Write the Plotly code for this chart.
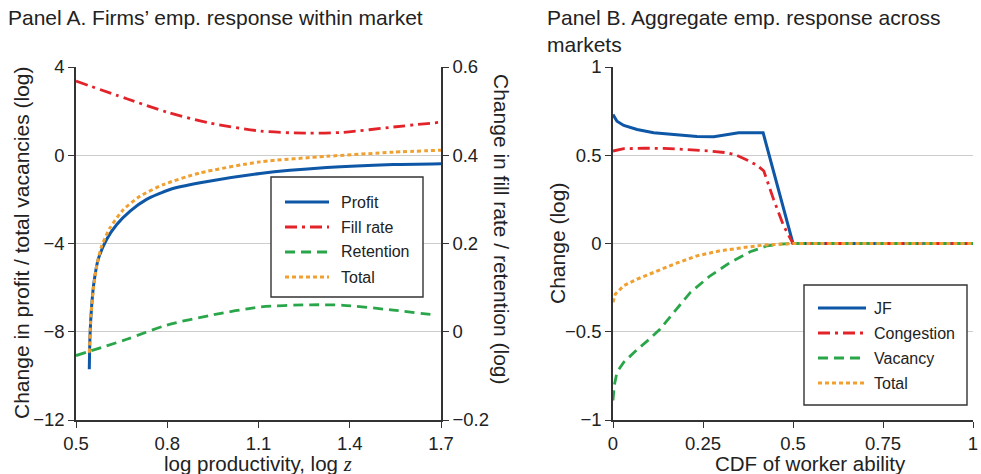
import plotly.graph_objects as go

# ---------------- Panel A: firms' employment response within market ----------------
# log productivity grid (separate grids per series, denser where curves are steep)
profit_x = [0.5437, 0.546, 0.5515, 0.559, 0.573, 0.601, 0.634, 0.678, 0.732, 0.809,
            0.908, 1.105, 1.324, 1.543, 1.70]
profit_y = [-9.7, -8.19, -6.83, -5.77, -4.72, -3.81, -3.14, -2.53, -2.00, -1.55,
            -1.25, -0.83, -0.56, -0.42, -0.38]

total_a_x = [0.5437, 0.549, 0.557, 0.568, 0.584, 0.612, 0.656, 0.710, 0.787, 0.908,
             1.105, 1.324, 1.543, 1.70]
total_a_y = [-8.95, -7.28, -6.08, -5.02, -4.12, -3.29, -2.46, -1.86, -1.33, -0.80,
             -0.30, -0.05, 0.14, 0.23]

fill_x = [0.5, 0.667, 0.798, 0.941, 1.105, 1.258, 1.379, 1.543, 1.70]
fill_y = [0.568, 0.528, 0.498, 0.473, 0.455, 0.450, 0.452, 0.464, 0.475]

retention_x = [0.5, 0.667, 0.798, 0.941, 1.105, 1.27, 1.379, 1.543, 1.68]
retention_y = [-0.054, -0.017, 0.015, 0.037, 0.056, 0.061, 0.060, 0.049, 0.038]

# ---------------- Panel B: aggregate employment response across markets ----------------
jf_x = [0.0, 0.011, 0.030, 0.067, 0.113, 0.178, 0.233, 0.280, 0.317, 0.349, 0.417, 0.5, 1.0]
jf_y = [0.731, 0.693, 0.669, 0.646, 0.627, 0.614, 0.606, 0.605, 0.616, 0.627, 0.627, 0.0, 0.0]

cong_x = [0.0, 0.030, 0.085, 0.141, 0.196, 0.270, 0.317, 0.344, 0.372, 0.400, 0.419,
          0.446, 0.474, 0.5, 1.0]
cong_y = [0.524, 0.537, 0.540, 0.539, 0.533, 0.524, 0.514, 0.499, 0.473, 0.443, 0.411,
          0.25, 0.10, 0.0, 0.0]

vac_x = [0.0, 0.0037, 0.011, 0.030, 0.067, 0.104, 0.131, 0.169, 0.215, 0.270, 0.326,
         0.381, 0.428, 0.465, 0.5, 1.0]
vac_y = [-0.889, -0.804, -0.729, -0.672, -0.601, -0.537, -0.484, -0.390, -0.277, -0.183,
         -0.107, -0.047, -0.013, -0.004, 0.0, 0.0]

total_b_x = [0.0, 0.0065, 0.030, 0.067, 0.113, 0.169, 0.233, 0.298, 0.363, 0.419, 0.5, 1.0]
total_b_y = [-0.333, -0.286, -0.239, -0.202, -0.164, -0.117, -0.070, -0.041, -0.023,
             -0.009, 0.0, 0.0]

# tick values
a_xticks = [0.5, 0.8, 1.1, 1.4, 1.7]
a_yticks = [-12, -8, -4, 0, 4]
a_y2ticks = [-0.2, 0, 0.2, 0.4, 0.6]
b_xticks = [0, 0.25, 0.5, 0.75, 1]
b_yticks = [-1, -0.5, 0, 0.5, 1]

BLUE = "#0d57a6"
RED = "#e2232a"
GREEN = "#2aa64a"
ORANGE = "#f0a030"
INK = "#222222"
AXIS = "#333333"
GRID = "#cdcdcd"
FONT = "Liberation Sans, Arial, sans-serif"

# line styles shared by the curves and their legend keys
STYLE_SOLID = dict(color=BLUE, width=3)
STYLE_DASHDOT = dict(color=RED, width=2.8, dash="12px,5px,3px,5px")
STYLE_DASH = dict(color=GREEN, width=2.8, dash="10px,6px")
STYLE_DOT = dict(color=ORANGE, width=3, dash="4px,3px")

W, H = 981, 474


def px_x(p):
    return p / W


def px_y(p):
    return 1 - p / H


fig = go.Figure()

# Panel A traces
fig.add_trace(go.Scatter(x=profit_x, y=profit_y, name="Profit", mode="lines",
                         line=dict(**STYLE_SOLID, shape="spline", smoothing=0.6),
                         xaxis="x", yaxis="y"))
fig.add_trace(go.Scatter(x=fill_x, y=fill_y, name="Fill rate", mode="lines",
                         line=dict(**STYLE_DASHDOT, shape="spline", smoothing=0.8),
                         xaxis="x", yaxis="y2"))
fig.add_trace(go.Scatter(x=retention_x, y=retention_y, name="Retention", mode="lines",
                         line=dict(**STYLE_DASH, shape="spline", smoothing=0.8),
                         xaxis="x", yaxis="y2"))
fig.add_trace(go.Scatter(x=total_a_x, y=total_a_y, name="Total", mode="lines",
                         line=dict(**STYLE_DOT, shape="spline", smoothing=0.6),
                         xaxis="x", yaxis="y"))

# Panel B traces
fig.add_trace(go.Scatter(x=jf_x, y=jf_y, name="JF", mode="lines",
                         line=STYLE_SOLID, xaxis="x2", yaxis="y3"))
fig.add_trace(go.Scatter(x=cong_x, y=cong_y, name="Congestion", mode="lines",
                         line=STYLE_DASHDOT, xaxis="x2", yaxis="y3"))
fig.add_trace(go.Scatter(x=vac_x, y=vac_y, name="Vacancy", mode="lines",
                         line=STYLE_DASH, xaxis="x2", yaxis="y3"))
fig.add_trace(go.Scatter(x=total_b_x, y=total_b_y, name="Total", mode="lines",
                         line=STYLE_DOT, xaxis="x2", yaxis="y3"))

tickfont = dict(family=FONT, size=18.5, color=INK)
axis_common = dict(showline=True, linecolor=AXIS, linewidth=1.5, ticks="outside",
                   ticklen=6, tickwidth=1.4, tickcolor=AXIS, zeroline=False,
                   tickfont=tickfont, automargin=False)

y_dom = [px_y(420), px_y(67)]

fig.update_layout(
    width=W, height=H,
    margin=dict(l=0, r=0, t=0, b=0, pad=0, autoexpand=False),
    paper_bgcolor="white", plot_bgcolor="white",
    font=dict(family=FONT, color=INK),
    showlegend=False,
    xaxis=dict(domain=[px_x(76), px_x(441)], range=[0.5, 1.7], tickvals=a_xticks,
               ticktext=[f"{v:.1f}" for v in a_xticks], showgrid=False,
               anchor="y", **axis_common),
    yaxis=dict(domain=y_dom, range=[-12, 4], tickvals=a_yticks, showgrid=True,
               gridcolor=GRID, gridwidth=1.2, anchor="x", **axis_common),
    yaxis2=dict(range=[-0.2, 0.6], tickvals=a_y2ticks, overlaying="y", side="right",
                anchor="x", showgrid=False, **axis_common),
    xaxis2=dict(domain=[px_x(613), px_x(973)], range=[0, 1], tickvals=b_xticks,
                showgrid=False, anchor="y3", **axis_common),
    yaxis3=dict(domain=y_dom, range=[-1, 1], tickvals=b_yticks, showgrid=True,
                gridcolor=GRID, gridwidth=1.2, anchor="x2", **axis_common),
)

title_font = dict(family=FONT, size=21, color=INK)
label_font = dict(family=FONT, size=21, color=INK)
xlabel_font = dict(family=FONT, size=20.5, color=INK)
legend_font = dict(family=FONT, size=16, color=INK)

annotations = [
    dict(text="Panel A. Firms’ emp. response within market", x=px_x(6), y=px_y(18),
         xanchor="left", yanchor="middle", font=title_font),
    dict(text="Panel B. Aggregate emp. response across<br>markets", x=px_x(545),
         y=px_y(4), xanchor="left", yanchor="top", align="left", font=title_font),
    dict(text="Change in profit / total vacancies (log)", x=px_x(22), y=px_y(243),
         textangle=-90, xanchor="center", yanchor="middle", font=label_font),
    dict(text="Change in fill rate / retention (log)", x=px_x(502), y=px_y(229),
         textangle=90, xanchor="center", yanchor="middle", font=label_font),
    dict(text="Change (log)", x=px_x(557), y=px_y(244), textangle=-90,
         xanchor="center", yanchor="middle", font=label_font),
    dict(text="log productivity, log <span style=\"font-family:'Liberation Serif'\"><i>z</i></span>",
         x=px_x(258), y=px_y(463), xanchor="center", yanchor="middle", font=xlabel_font),
    dict(text="CDF of worker ability", x=px_x(810), y=px_y(463), xanchor="center",
         yanchor="middle", font=xlabel_font),
]

# legend boxes: frame, line keys and labels (paper pixel layout)
shapes = []
legends = [
    dict(box=(271, 177, 423, 297), key_x=(285, 329), text_x=339, row0=202,
         entries=[("Profit", STYLE_SOLID), ("Fill rate", STYLE_DASHDOT),
                  ("Retention", STYLE_DASH), ("Total", STYLE_DOT)]),
    dict(box=(804, 285, 967, 405), key_x=(818, 866), text_x=872, row0=308,
         entries=[("JF", STYLE_SOLID), ("Congestion", STYLE_DASHDOT),
                  ("Vacancy", STYLE_DASH), ("Total", STYLE_DOT)]),
]
for lgd in legends:
    x0, y0, x1, y1 = lgd["box"]
    shapes.append(dict(type="rect", xref="paper", yref="paper",
                       x0=px_x(x0), x1=px_x(x1), y0=px_y(y1), y1=px_y(y0),
                       line=dict(color=AXIS, width=1.4), fillcolor="white", layer="above"))
    for i, (label, style) in enumerate(lgd["entries"]):
        yy = lgd["row0"] + 25 * i
        shapes.append(dict(type="line", xref="paper", yref="paper",
                           x0=px_x(lgd["key_x"][0]), x1=px_x(lgd["key_x"][1]),
                           y0=px_y(yy), y1=px_y(yy), line=style, layer="above"))
        annotations.append(dict(text=label, x=px_x(lgd["text_x"]), y=px_y(yy),
                                xanchor="left", yanchor="middle", font=legend_font))

for a in annotations:
    a.update(xref="paper", yref="paper", showarrow=False)
fig.update_layout(annotations=annotations, shapes=shapes)

fig.write_html("out.html")
